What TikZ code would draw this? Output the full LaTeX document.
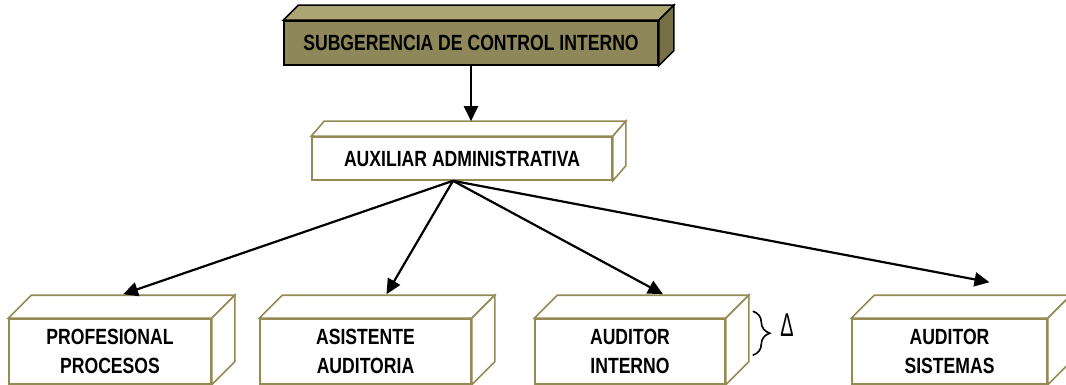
\documentclass[tikz,border=0pt]{standalone}
\usepackage{fontspec}
\newfontfamily\narrowfont[FakeStretch=0.8]{Liberation Sans}
\usetikzlibrary{positioning,arrows.meta,decorations.pathreplacing}
\definecolor{borde}{HTML}{948A54}
\definecolor{oliva}{HTML}{8E875A}
\definecolor{olivaclaro}{HTML}{ABA473}
\definecolor{olivaoscuro}{HTML}{776F45}
\tikzset{
	caja/.style={draw=borde,
			fill=white,
			line width=1.6pt,
			inner sep=0pt,
			align=center,
			font=\narrowfont\bfseries\fontsize{22}{29}\selectfont
		},
	flecha/.style={-{Triangle[length=15pt,width=14pt]},
			line width=2.2pt
		}
}
% top and side faces of a box: name, dx, dy, top fill, side fill
\newcommand{\caras}[5]{%
	\filldraw[fill=#4] (#1.north west) -- ++(#2,#3)
	-- ([shift={(#2,#3)}]#1.north east) -- (#1.north east) -- cycle;
	\filldraw[fill=#5] (#1.north east) -- ++(#2,#3)
	-- ([shift={(#2,#3)}]#1.south east) -- (#1.south east) -- cycle;
}

\begin{document}
\begin{tikzpicture}[x=1pt,y=-1pt]
		\useasboundingbox (0,0) rectangle (1066,385);

		% Subgerencia
		\node[caja,
			draw=black,
			fill=oliva,
			minimum width=374pt,
			minimum height=44pt
		] (sub) at (471,43) {SUBGERENCIA DE CONTROL INTERNO};
		\begin{scope}[line width=1.6pt]
			\caras{sub}{15}{-15}{olivaclaro}{olivaoscuro}
		\end{scope}

		% Auxiliar
		\node[caja,
			minimum width=300pt,
			minimum height=43pt
		] (aux) at (462,158.5) {AUXILIAR ADMINISTRATIVA};
		\begin{scope}[draw=borde,line width=1.6pt]
			\caras{aux}{13}{-15}{white}{white}
		\end{scope}

		% Cargos
		\node[caja,
			minimum width=202pt,
			minimum height=65pt
		] (prof) at (110,351.5) {PROFESIONAL\\PROCESOS};

		\node[caja,
			minimum width=211pt,
			minimum height=65pt
		] (asis) at (365.5,351.5) {ASISTENTE\\AUDITORIA};

		\node[caja,
			minimum width=190pt,
			minimum height=65pt
		] (audi) at (630,351.5) {AUDITOR\\INTERNO};

		\node[caja,
			minimum width=195pt,
			minimum height=65pt
		] (auds) at (949.5,351.5) {AUDITOR\\SISTEMAS};

		\begin{scope}[draw=borde,line width=1.6pt]
			\foreach \n in {prof,asis,audi,auds}{
				\caras{\n}{23}{-23}{white}{white}
			}
		\end{scope}

		% Arrows
		\draw[flecha] (sub.south) -- ([yshift=15pt]sub.south |- aux.north);

		\coordinate (origen) at ([xshift=-9pt]aux.south);
		\draw[flecha] (origen) -- ([shift={(13,-24)}]prof.north);
		\draw[flecha] (origen) -- ([shift={(21,-24)}]asis.north);
		\draw[flecha] (origen) -- ([shift={(33,-24)}]audi.north);
		\draw[flecha] (origen) -- ([shift={(40,-36)}]auds.north);

		% Brace
		\coordinate (llave1) at ([shift={(27,-7)}]audi.north east);
		\coordinate (llave2) at ([shift={(27,37)}]audi.north east);
		\draw[decorate,
			decoration={brace,amplitude=17pt},
			line width=1.6pt
		] (llave1) -- (llave2);
		\node (delta) at (787,325)
		{\narrowfont\fontsize{33}{33}\selectfont\scalebox{0.75}[1]{Δ}};
	\end{tikzpicture}
\end{document}
